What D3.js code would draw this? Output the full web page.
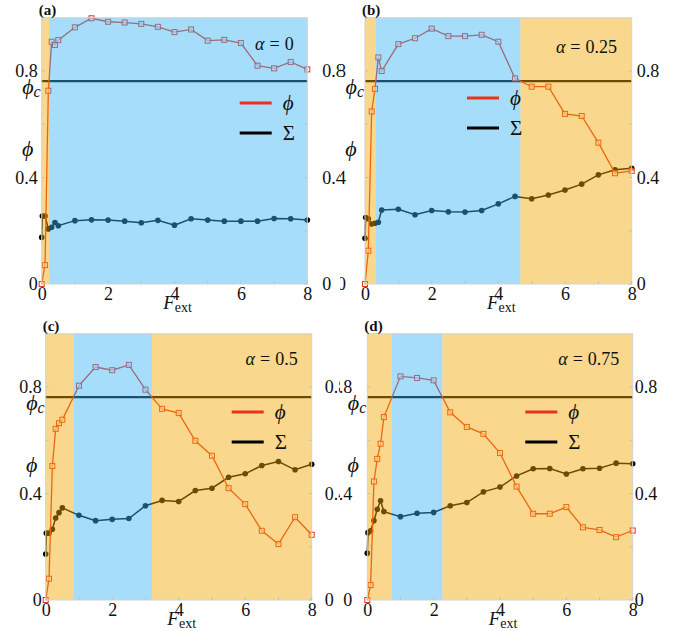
<!DOCTYPE html>
<html><head><meta charset="utf-8">
<script src="https://cdn.jsdelivr.net/npm/d3@7"></script>
<style>body{margin:0;background:#fff} svg{display:block}</style>
</head><body>
<svg id="chart" width="683" height="631"></svg>
<script>
// ---------------- data ----------------
const F_PHI = [0,0.1,0.2,0.3,0.4,0.5,1,1.5,2,2.5,3,3.5,4,4.5,5,5.5,6,6.5,7,7.5,8];
const F_SIGMA = [0,0.02,0.1,0.2,0.3,0.4,0.5,1,1.5,2,2.5,3,3.5,4,4.5,5,5.5,6,6.5,7,7.5,8];

const phiA   = [0,0.071,0.726,0.91,0.898,0.916,0.964,0.998,0.985,0.982,0.977,0.966,0.946,0.956,0.914,0.917,0.905,0.82,0.81,0.834,0.806];
const sigmaA = [0.175,0.255,0.255,0.207,0.213,0.231,0.219,0.238,0.241,0.24,0.236,0.23,0.239,0.221,0.245,0.24,0.236,0.236,0.236,0.246,0.245,0.24];

const phiB   = [0,0.125,0.648,0.733,0.851,0.80,0.901,0.923,0.959,0.931,0.931,0.936,0.91,0.772,0.741,0.741,0.639,0.631,0.531,0.416,0.425];
const sigmaB = [0.172,0.25,0.245,0.225,0.228,0.232,0.278,0.281,0.26,0.276,0.271,0.27,0.276,0.301,0.329,0.32,0.334,0.353,0.375,0.41,0.429,0.435];

const phiC   = [0,0.08,0.503,0.643,0.664,0.677,0.805,0.875,0.863,0.883,0.79,0.718,0.702,0.598,0.542,0.42,0.36,0.26,0.21,0.311,0.245];
const sigmaC = [0.173,0.251,0.251,0.266,0.308,0.328,0.346,0.318,0.298,0.303,0.306,0.354,0.374,0.37,0.411,0.42,0.461,0.474,0.505,0.52,0.489,0.51];

const phiD   = [0,0.056,0.445,0.53,0.587,0.687,0.84,0.834,0.825,0.705,0.65,0.624,0.552,0.426,0.324,0.324,0.349,0.273,0.263,0.236,0.261];
const sigmaD = [0.176,0.253,0.26,0.298,0.341,0.373,0.332,0.313,0.326,0.329,0.354,0.366,0.406,0.424,0.466,0.493,0.494,0.473,0.493,0.495,0.514,0.512];

const ALPHAS = ["0","0.25","0.5","0.75"];
const PANEL_TAGS = ["(a)","(b)","(c)","(d)"];
const PHI_C = 0.762;
const Y_TICKS = [0,0.4,0.8];
const Y_MINOR = [0.2,0.6];
const X_TICKS = [0,2,4,6,8];
const X_MINOR = [1,3,5,7];

// ---------------- layout / style ----------------
const LAYOUT = [
  {x0:41.7,  x1:307.3, y0:284, clip:[0,0,340,316],   left:4,  right:15, leg:[198,-181], alphaY:-234},
  {x0:365,   x1:631.7, y0:284, clip:[340,0,343,316], left:19, right:5,  leg:[102,-186], alphaY:-231},
  {x0:45.7,  x1:311.7, y0:600, clip:[0,316,340,315], left:4,  right:13, leg:[186,-188], alphaY:-235},
  {x0:367.3, x1:632.7, y0:600, clip:[340,316,343,315], left:15, right:2, leg:[158,-188], alphaY:-235}
];
const SERIES = [[phiA,sigmaA],[phiB,sigmaB],[phiC,sigmaC],[phiD,sigmaD]];
const YELLOW = "rgb(242,166,0)", BLUE = "rgb(57,179,244)", OVER_OP = 0.45;
const RED = "#e8321e";
const SERIF = '"Liberation Serif", "Times New Roman", serif';
const PLOT_H = 266.25;

const svg = d3.select("#chart");
const defs = svg.append("defs");
const fmt = d => d === 0 ? "0" : d3.format(".1f")(d);

LAYOUT.forEach((L, i) => {
  defs.append("clipPath").attr("id", "clip" + i).append("rect")
    .attr("x", L.clip[0]).attr("y", L.clip[1]).attr("width", L.clip[2]).attr("height", L.clip[3]);
  const g = svg.append("g").attr("clip-path", `url(#clip${i})`);
  const x = d3.scaleLinear().domain([0, 8]).range([L.x0, L.x1]);
  const y = d3.scaleLinear().domain([0, 1]).range([L.y0, L.y0 - PLOT_H]);
  const [phi, sig] = SERIES[i];
  const phiPts = F_PHI.map((f, k) => [f, phi[k]]);
  const sigPts = F_SIGMA.map((f, k) => [f, sig[k]]);
  const line = d3.line().x(d => x(d[0])).y(d => y(d[1]));

  // phi_c line
  g.append("line").attr("x1", x(0)).attr("x2", x(8))
    .attr("y1", y(PHI_C)).attr("y2", y(PHI_C))
    .attr("stroke", "#000").attr("stroke-width", 2.2);

  // Sigma series
  g.append("path").datum(sigPts).attr("d", line)
    .attr("fill", "none").attr("stroke", "#000").attr("stroke-width", 1.5);
  g.append("g").selectAll("circle").data(sigPts).join("circle")
    .attr("cx", d => x(d[0])).attr("cy", d => y(d[1])).attr("r", 2.8).attr("fill", "#000");

  // phi series
  g.append("path").datum(phiPts).attr("d", line)
    .attr("fill", "none").attr("stroke", RED).attr("stroke-width", 1.3);
  g.append("g").selectAll("rect").data(phiPts).join("rect")
    .attr("x", d => x(d[0]) - 2.5).attr("y", d => y(d[1]) - 2.5)
    .attr("width", 5).attr("height", 5)
    .attr("fill", "#fff").attr("fill-opacity", 0.6)
    .attr("stroke", RED).attr("stroke-width", 1);

  // regions (phi below / above phi_c), boundaries from linear crossings
  const regions = [];
  let start = 0, above = phiPts[0][1] > PHI_C;
  for (let k = 1; k < phiPts.length; k++) {
    const a = phiPts[k - 1], b = phiPts[k];
    const nowAbove = b[1] > PHI_C;
    if (nowAbove !== above) {
      const t = (PHI_C - a[1]) / (b[1] - a[1]);
      const xc = a[0] + t * (b[0] - a[0]);
      regions.push({from: start, to: xc, above});
      start = xc; above = nowAbove;
    }
  }
  regions.push({from: start, to: 8, above});
  g.append("g").selectAll("rect").data(regions).join("rect")
    .attr("x", d => x(d.from)).attr("width", d => x(d.to) - x(d.from))
    .attr("y", y(1)).attr("height", y(0) - y(1))
    .attr("fill", d => d.above ? BLUE : YELLOW).attr("fill-opacity", OVER_OP);

  // frame
  g.append("rect").attr("x", x(0)).attr("y", y(1))
    .attr("width", x(8) - x(0)).attr("height", y(0) - y(1))
    .attr("fill", "none").attr("stroke", "#d2d2d2").attr("stroke-width", 1);

  // small inward ticks
  const tk = g.append("g").attr("stroke", "#c0c0c0").attr("stroke-width", 1);
  Y_TICKS.concat(Y_MINOR).forEach(v => {
    tk.append("line").attr("x1", x(0)).attr("x2", x(0) + 3).attr("y1", y(v)).attr("y2", y(v));
    tk.append("line").attr("x1", x(8)).attr("x2", x(8) - 3).attr("y1", y(v)).attr("y2", y(v));
  });
  X_TICKS.concat(X_MINOR).forEach(v => {
    tk.append("line").attr("x1", x(v)).attr("x2", x(v)).attr("y1", y(0)).attr("y2", y(0) - 3);
  });

  // axes labels via d3 axes
  const styleAxis = sel => {
    sel.select(".domain").remove();
    sel.selectAll("text").style("font-family", SERIF).style("font-size", "18px").attr("fill", "#111");
  };
  g.append("g").attr("transform", `translate(${x(0)},0)`)
    .call(d3.axisLeft(y).tickValues(Y_TICKS).tickSize(0).tickPadding(L.left).tickFormat(fmt)).call(styleAxis);
  g.append("g").attr("transform", `translate(${x(8)},0)`)
    .call(d3.axisRight(y).tickValues(Y_TICKS).tickSize(0).tickPadding(L.right).tickFormat(fmt)).call(styleAxis);
  g.append("g").attr("transform", `translate(0,${y(0)})`)
    .call(d3.axisBottom(x).tickValues(X_TICKS).tickSize(0).tickPadding(3).tickFormat(d3.format("d"))).call(styleAxis);

  const txt = (sel, size, italic, weight) => sel.style("font-family", SERIF)
      .style("font-size", size + "px").style("font-style", italic ? "italic" : "normal")
      .style("font-weight", weight || "normal").attr("fill", "#111");

  // y-axis name phi and phi_c
  g.append("text").attr("x", x(0) - 14).attr("y", y(0.5) + 5)
    .attr("text-anchor", "middle").call(txt, 22, true).text("ϕ");
  const pc = g.append("text").attr("x", x(0) - 1).attr("y", y(PHI_C) + 13)
    .attr("text-anchor", "end").call(txt, 22, true);
  pc.append("tspan").text("ϕ");
  pc.append("tspan").style("font-size", "16px").attr("dy", 3).text("c");

  // x-axis name
  const fx = g.append("text").attr("x", x(4) + 3).attr("y", y(0) + 25)
    .attr("text-anchor", "middle").call(txt, 19, false);
  fx.append("tspan").style("font-style", "italic").text("F");
  fx.append("tspan").style("font-size", "14px").attr("dy", 3).text("ext");

  // panel tag
  g.append("text").attr("x", x(0) - 3).attr("y", y(1) - 3)
    .call(txt, 15, false, "bold").text(PANEL_TAGS[i]);

  // alpha label
  const at = g.append("text").attr("x", x(0) + 252).attr("y", L.y0 + L.alphaY)
    .attr("text-anchor", "end").call(txt, 18, false);
  at.append("tspan").style("font-style", "italic").text("α");
  at.append("tspan").attr("dx", 5).text("=");
  at.append("tspan").attr("dx", 5).text(ALPHAS[i]);

  // legend
  const lx = x(0) + L.leg[0], ly = L.y0 + L.leg[1];
  const legend = [{c: RED, t: "ϕ", it: true}, {c: "#000", t: "Σ", it: false}];
  legend.forEach((d, k) => {
    g.append("line").attr("x1", lx).attr("x2", lx + 32).attr("y1", ly + 30 * k).attr("y2", ly + 30 * k)
      .attr("stroke", d.c).attr("stroke-width", 3);
    g.append("text").attr("x", lx + 43).attr("y", ly + 30 * k + 7)
      .call(txt, 21, d.it).text(d.t);
  });
});
</script>
</body></html>
